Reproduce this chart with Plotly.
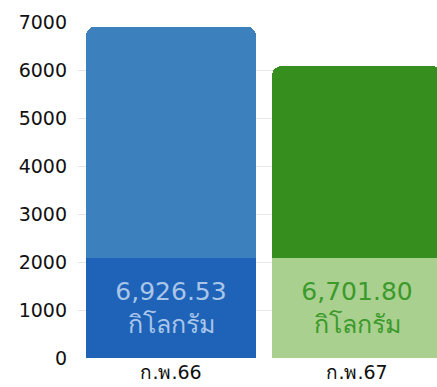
import plotly.graph_objects as go

categories = ["ก.พ.66", "ก.พ.67"]
totals = [6900, 6080]
base_band = [2080, 2080]
value_labels = ["6,926.53", "6,701.80"]
unit_label = "กิโลกรัม"
y_ticks = [0, 1000, 2000, 3000, 4000, 5000, 6000, 7000]

top_colors = ["#3d80be", "#368e1f"]
band_colors = ["#1f63b8", "#a9d08e"]
label_colors = ["#a9c6ea", "#3b9a2b"]

upper = [t - b for t, b in zip(totals, base_band)]
texts = [f"{v}<br>{unit_label}" for v in value_labels]

fig = go.Figure()
fig.add_trace(go.Bar(
    x=categories, y=base_band, marker=dict(color=band_colors, line=dict(width=0)),
    text=texts, textposition="inside", insidetextanchor="middle", textangle=0,
    textfont=dict(color=label_colors, size=25, family="DejaVu Sans, sans-serif"),
    hoverinfo="skip", showlegend=False,
))
fig.add_trace(go.Bar(
    x=categories, y=upper, marker=dict(color=top_colors, line=dict(width=0)),
    hoverinfo="skip", showlegend=False,
))

fig.update_layout(
    width=437, height=387,
    margin=dict(l=78, r=0, t=22, b=29),
    barmode="stack", bargap=0.086, barcornerradius=9,
    plot_bgcolor="white", paper_bgcolor="white",
    uniformtext=dict(minsize=20, mode="show"),
    font=dict(family="DejaVu Sans, sans-serif", color="#111111"),
)
fig.update_xaxes(range=[-0.5, 1.43], showgrid=False, showline=False, zeroline=False,
                 tickfont=dict(size=19, color="#111111"), ticks="", ticklabelstandoff=1,
                 automargin=False)
fig.update_yaxes(range=[0, 7000], tickvals=y_ticks, showgrid=True, gridcolor="#e6e6e6",
                 zeroline=False, showline=False, tickfont=dict(size=19, color="#111111"),
                 ticklabelstandoff=10, automargin=False)

fig.write_html("out.html")
